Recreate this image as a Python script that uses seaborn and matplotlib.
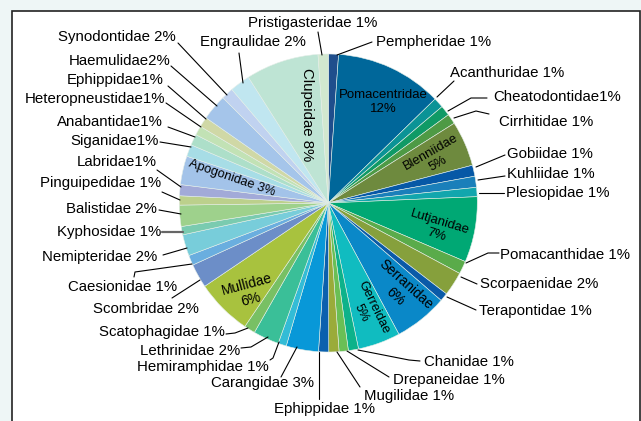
import matplotlib
matplotlib.use("Agg")
import matplotlib.pyplot as plt
from matplotlib.patches import Rectangle
import seaborn as sns

# fish families, clockwise from 12 o'clock
families = [
    "Pempheridae", "Pomacentridae", "Acanthuridae", "Cheatodontidae", "Cirrhitidae",
    "Blenniidae", "Gobiidae", "Kuhliidae", "Plesiopidae", "Lutjanidae",
    "Pomacanthidae", "Scorpaenidae", "Terapontidae", "Serranidae", "Gerreidae",
    "Chanidae", "Drepaneidae", "Mugilidae", "Ephippidae", "Carangidae",
    "Hemiramphidae", "Lethrinidae", "Scatophagidae", "Mullidae", "Scombridae",
    "Caesionidae", "Nemipteridae", "Kyphosidae", "Balistidae", "Pinguipedidae",
    "Labridae", "Apogonidae", "Siganidae", "Anabantidae", "Heteropneustidae",
    "Ephippidae", "Haemulidae", "Synodontidae", "Engraulidae", "Clupeidae",
    "Pristigasteridae",
]
# rounded percentage printed on the chart
pct_label = [1, 12, 1, 1, 1, 5, 1, 1, 1, 7, 1, 2, 1, 6, 5, 1, 1, 1, 1, 3,
             1, 2, 1, 6, 2, 1, 2, 1, 2, 1, 1, 3, 1, 1, 1, 1, 2, 2, 2, 8, 1]
# slice share (%)
share = [1.1, 11.6, 1.1, 1.1, 1.1, 4.9, 1.2, 1.2, 1.0, 7.1,
         1.4, 2.6, 0.9, 5.8, 4.6, 1.1, 1.0, 1.1, 1.1, 3.5,
         0.9, 2.8, 1.2, 6.1, 2.6, 1.1, 2.3, 0.9, 2.3, 1.0,
         1.2, 3.1, 1.3, 1.2, 1.0, 1.1, 2.8, 1.3, 2.2, 7.9, 1.1]
# labels written without a space before the number
no_space = {3, 30, 32, 33, 34, 35, 36}

colors = [
    "#1f4e8c", "#00679a", "#0b9396", "#0f9a66", "#4e9a45",
    "#6e8a3e", "#0658a6", "#1a7fba", "#12a6ad", "#00a874",
    "#5aab4a", "#86a03c", "#0a5aa8", "#0a88c8", "#10bcc0",
    "#0db28a", "#6abf55", "#9aab3a", "#0b60ae", "#0898d8",
    "#33bcd6", "#3abf98", "#78c064", "#a8c23e", "#6c8ec8",
    "#6aaedf", "#78cdda", "#7acbb0", "#9ed18c", "#bcd08c",
    "#a2aad8", "#a3c3e9", "#a7dde6", "#addfc9", "#c2e2b5",
    "#d0d8a6", "#a5c5ea", "#c0d2f0", "#c0e6f0", "#bee4d4",
    "#d2e8cf",
]

W, H = 641, 421
CX, CY, R = 328.3, 203, 149


def fy(y):
    return H - y


sns.set_style("white")
plt.rcParams["font.family"] = ["Liberation Sans", "DejaVu Sans"]

fig = plt.figure(figsize=(W / 100, H / 100), dpi=100)
fig.patch.set_facecolor("#eef6f6")
ax = fig.add_axes([0, 0, 1, 1])
ax.set_facecolor("#eef6f6")

ax.add_patch(Rectangle((12, fy(440)), 627.5, 440 - 11, facecolor="white",
                       edgecolor="#222222", linewidth=1.2, zorder=0))

ax.pie(share, colors=colors, startangle=90, counterclock=False,
       center=(CX, fy(CY)), radius=R,
       wedgeprops=dict(linewidth=0.4, edgecolor="#e4eee8"))

# labels inside the pie: index -> (x, y, rotation, fontsize, text layout)
inner = {
    1: (383, 102, 0, 9.5, "{n}\n{p}%"),
    5: (434.5, 157.5, 30, 9.4, "{n}\n{p}%"),
    9: (438, 229, -17, 9.5, "{n}\n{p}%"),
    13: (400.7, 290.6, -42, 9.8, "{n}\n{p}%"),
    14: (367.3, 310.6, -64, 9.3, "{n}\n{p}%"),
    23: (249, 292, 15, 10, "{n}\n{p}%"),
    31: (232.3, 178.3, -19, 9.3, "{n} {p}%"),
    39: (306.6, 115, -90, 10.8, "{n} {p}%"),
}
for i, (x, y, rot, fs, fmt) in inner.items():
    ax.text(x, fy(y), fmt.format(n=families[i], p=pct_label[i]),
            ha="center", va="center", rotation=rot, fontsize=fs,
            rotation_mode="anchor", linespacing=1.15, color="black", zorder=5)

# labels outside: index -> (x, y, ha, leader line points)
outer = {
    0: (376, 42, "left", [(337, 55), (372, 42)]),
    2: (450, 73, "left", [(437, 97), (454, 81)]),
    3: (493, 97, "left", [(448, 111), (471, 98), (487, 98)]),
    4: (499, 122, "left", [(454, 118), (476, 111), (489, 114)]),
    6: (507, 154, "left", [(476, 167), (505, 155)]),
    7: (507, 174, "left", [(478, 180), (505, 176)]),
    8: (506, 193, "left", [(479, 193), (504, 193)]),
    10: (500, 255, "left", [(466, 263), (488, 253), (499, 253)]),
    11: (480, 284, "left", [(461, 277), (477, 284)]),
    12: (479, 311, "left", [(447, 297), (476, 310)]),
    15: (424, 362, "left", [(358, 350), (409, 360), (420, 361)]),
    16: (393, 380, "left", [(347, 351), (389, 377)]),
    17: (364, 396, "left", [(337, 352), (360, 387)]),
    18: (324, 409, "center", [(319, 352), (319, 399)]),
    19: (314, 383, "right", [(297, 347), (281, 377)]),
    20: (269, 367, "right", [(279, 342), (273, 358), (270, 360)]),
    21: (240, 351, "right", [(268, 337), (251, 347), (241, 348)]),
    22: (225, 332, "right", [(248, 328), (235, 333), (226, 334)]),
    24: (199, 309, "right", [(200, 280), (172, 298)]),
    25: (177, 287, "right", [(192, 264), (135, 272), (134, 277)]),
    26: (157, 257, "right", [(187, 248), (163, 255)]),
    27: (161, 232, "right", [(183, 232), (162, 232)]),
    28: (157, 209, "right", [(181, 214), (159, 210)]),
    29: (161, 183, "right", [(180, 200), (162, 192)]),
    30: (157, 162, "right", [(181, 187), (157, 170)]),
    32: (159, 141, "right", [(191, 147), (160, 142)]),
    33: (163, 122, "right", [(195, 137), (168, 127)]),
    34: (165, 99, "right", [(201, 127), (166, 103)]),
    35: (164, 80, "right", [(206, 119), (168, 86)]),
    36: (171, 61, "right", [(217, 106), (171, 66)]),
    37: (176, 37, "right", [(227, 95), (178, 43)]),
    38: (253, 42, "center", [(243, 83), (239, 53)]),
    40: (313, 23, "center", [(322, 55), (318, 32)]),
}
for i, (x, y, ha, pts) in outer.items():
    sep = "" if i in no_space else " "
    ax.text(x, fy(y), f"{families[i]}{sep}{pct_label[i]}%", ha=ha, va="center",
            fontsize=10.8, color="black", zorder=5)
    xs = [p[0] for p in pts]
    ys = [fy(p[1]) for p in pts]
    if i == 27:
        ax.plot(xs, ys, color="#666666", linewidth=1.6, zorder=4)
    else:
        ax.plot(xs, ys, color="black", linewidth=0.8, zorder=4)

ax.set_xlim(0, W)
ax.set_ylim(0, H)
ax.set_aspect("equal")
ax.axis("off")

fig.savefig("out.png", dpi=100, facecolor=fig.get_facecolor())
